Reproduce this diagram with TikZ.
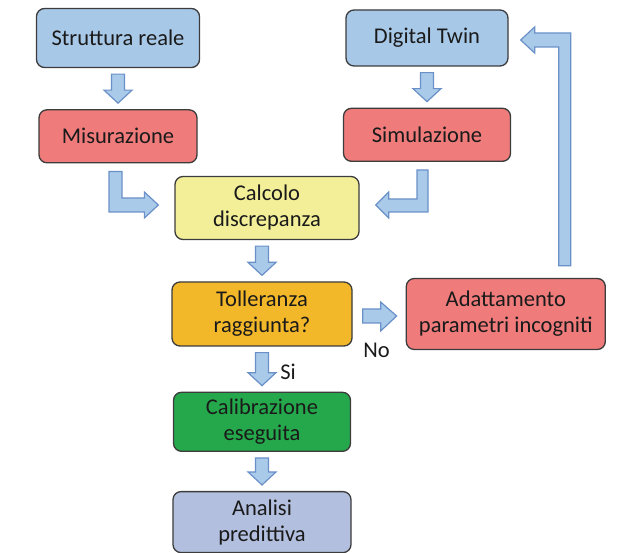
\documentclass[tikz,border=0pt]{standalone}
\usepackage{fontspec}
\setmainfont{Carlito}
\usetikzlibrary{positioning, calc}
\definecolor{cblue}{HTML}{A8C8E8}
\definecolor{cred}{HTML}{EF7B7B}
\definecolor{cyellow}{HTML}{F3EF99}
\definecolor{corange}{HTML}{F3B82A}
\definecolor{cgreen}{HTML}{24A84B}
\definecolor{clav}{HTML}{B2BFDE}
\definecolor{cline}{HTML}{3C3C3C}
\definecolor{ctext}{HTML}{1A1A1A}
\definecolor{afill}{HTML}{AACAEA}
\definecolor{aline}{HTML}{6A90C8}

% straight block arrow pointing down, from node #1 to node #2
\newcommand{\blkdown}[2]{%
  \filldraw[blk] let \p1=($(#1.south)+(0,-6)$), \p2=($(#2.north)+(0,6)$) in
    (\x2-6.5pt,\y1) -- (\x2+6.5pt,\y1) -- (\x2+6.5pt,\y2+13pt) -- (\x2+14pt,\y2+13pt)
    -- (\x2,\y2) -- (\x2-14pt,\y2+13pt) -- (\x2-6.5pt,\y2+13pt) -- cycle;}

\begin{document}
\begin{tikzpicture}[
  x=1pt, y=1pt,
  font=\fontsize{22.5}{26}\selectfont,
  box/.style={rounded corners=8pt, draw=cline, line width=1.3pt, fill=#1,
              text=ctext, align=center, minimum height=56pt, inner sep=4pt},
  blk/.style={fill=afill, draw=aline, line width=1.2pt, line join=miter},
  lbl/.style={text=ctext, inner sep=1pt}
]
\useasboundingbox (0,0) rectangle (632,-553);

% ---- Left column ----
\node[box=cblue, minimum width=163pt, minimum height=59pt] (sr) at (118,-38) {Struttura reale};
\node[box=cred, minimum width=158pt, minimum height=53pt, below=41pt of sr] (mis) {Misurazione};

% ---- Right column ----
\node[box=cblue, minimum width=162pt] (dt) at (427,-38) {Digital Twin};
\node[box=cred, minimum width=167pt, minimum height=53pt, below=41pt of dt] (sim) {Simulazione};

% ---- Central flow ----
\node[box=cyellow, minimum width=184pt, minimum height=63pt] (calc) at (267,-208) {Calcolo\\discrepanza};
\node[box=corange, minimum width=180pt, minimum height=64pt] (tol) at (262,-314) {Tolleranza\\raggiunta?};
\node[box=cgreen, minimum width=177pt, minimum height=59pt, below=45pt of tol] (cal) {Calibrazione\\eseguita};
\node[box=clav, minimum width=178pt, minimum height=61pt, below=39pt of cal] (an) {Analisi\\predittiva};
\node[box=cred, minimum width=199pt, minimum height=71pt, right=53pt of tol] (ad) {Adattamento\\parametri incogniti};

% ---- Block arrows ----
\blkdown{sr}{mis}
\blkdown{dt}{sim}
\blkdown{calc}{tol}
\blkdown{tol}{cal}
\blkdown{cal}{an}

% elbow arrows into the discrepancy box
\filldraw[blk] let \p1=(mis.south), \p2=(calc.west) in
  (\x1-9pt,\y1-8pt) -- (\x1+4pt,\y1-8pt) -- (\x1+4pt,\y2+10pt) -- (\x2-30pt,\y2+10pt)
  -- (\x2-30pt,\y2+16pt) -- (\x2-16pt,\y2+3pt) -- (\x2-30pt,\y2-10pt) -- (\x2-30pt,\y2-4pt)
  -- (\x1-9pt,\y2-4pt) -- cycle;
\filldraw[blk] let \p1=(sim.south), \p2=(calc.east) in
  (\x1+1pt,\y1-8pt) -- (\x1-10pt,\y1-8pt) -- (\x1-10pt,\y2+9pt) -- (\x2+29pt,\y2+9pt)
  -- (\x2+29pt,\y2+16pt) -- (\x2+16pt,\y2+3pt) -- (\x2+29pt,\y2-10pt) -- (\x2+29pt,\y2-4pt)
  -- (\x1+1pt,\y2-4pt) -- cycle;

% tolerance not reached
\filldraw[blk] let \p1=(tol.east), \p2=(ad.west) in
  (\x1+10pt,\y1+5pt) -- (\x2-25pt,\y1+5pt) -- (\x2-25pt,\y1+12pt) -- (\x2-9pt,\y1-2pt)
  -- (\x2-25pt,\y1-17pt) -- (\x2-25pt,\y1-9pt) -- (\x1+10pt,\y1-9pt) -- cycle;

% feedback to the digital twin
\filldraw[blk] let \p1=($(ad.north)+(59,0)$), \p2=(dt.east) in
  (\x1-6pt,\y1+12pt) -- (\x1+6pt,\y1+12pt) -- (\x1+6pt,\y2+5pt) -- (\x2+26pt,\y2+5pt)
  -- (\x2+26pt,\y2+11pt) -- (\x2+12pt,\y2-2pt) -- (\x2+26pt,\y2-15pt) -- (\x2+26pt,\y2-9pt)
  -- (\x1-6pt,\y2-9pt) -- cycle;

% ---- Labels ----
\node[lbl] (no) at ($(tol.east)+(24,-36)$) {No};
\node[lbl] (si) at ($(tol.south)+(26,-25)$) {Si};

\end{tikzpicture}
\end{document}
